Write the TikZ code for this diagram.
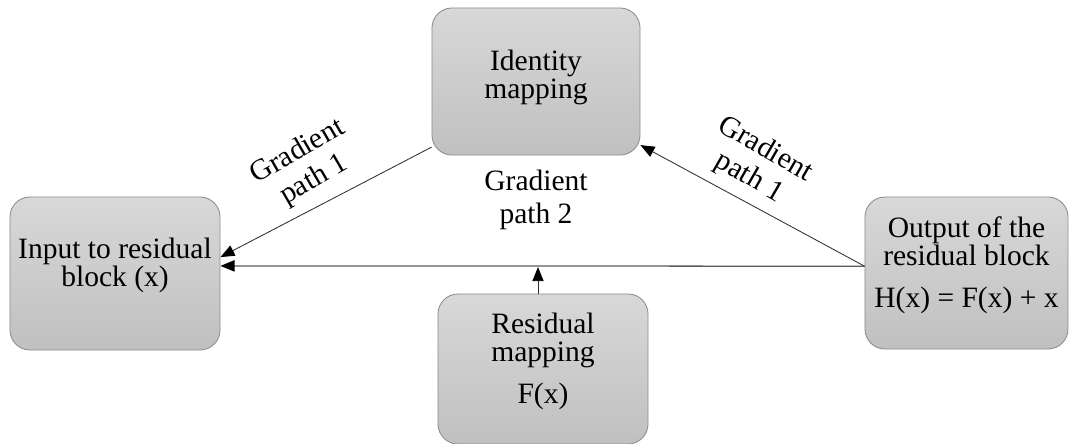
\documentclass[tikz,border=0pt]{standalone}
\usepackage{fontspec}
\setmainfont{Liberation Serif}
\usetikzlibrary{arrows.meta, positioning}
\definecolor{boxtop}{HTML}{D8D8D8}
\definecolor{boxbottom}{HTML}{C0C0C0}
\definecolor{boxborder}{HTML}{8C8C8C}
\definecolor{linedark}{HTML}{2E2E2E}
\definecolor{linemid}{HTML}{5A5A5A}

\tikzset{
  mapbox/.style={draw=boxborder, top color=boxtop, bottom color=boxbottom,
                 rounded corners=0.5cm, line width=0.6pt},
  boxtext/.style={font=\fontsize{21}{19.8}\selectfont, align=center, text=black},
  gradlabel/.style={font=\fontsize{21}{23}\selectfont, align=center, text=black},
  gradarrow/.style={draw=linedark, line width=0.6pt,
                    -{Triangle[length=10pt,width=8pt,color=black]}},
}

\begin{document}
\begin{tikzpicture}[x=0.025cm, y=-0.025cm]
  \useasboundingbox (0,0) rectangle (1070,443);

  % boxes
  \node[mapbox, minimum width=5.25cm, minimum height=3.825cm,
        label={[boxtext, yshift=0.2cm]center:Input to residual\\block (x)}] (input) at (115,273.5) {};
  \node[mapbox, minimum width=5.2cm, minimum height=3.675cm,
        label={[boxtext, yshift=0.1cm]center:Identity\\mapping}] (identity) at (536,81.5) {};
  \node[mapbox, minimum width=5.075cm, minimum height=3.8cm,
        label={[boxtext, yshift=0.2cm]center:Output of the\\residual block\\[10pt]H(x) = F(x) + x}] (output) at (966.5,273) {};
  \node[mapbox, minimum width=5.25cm, minimum height=3.75cm,
        label={[boxtext, yshift=0.19cm]center:Residual\\mapping\\[10pt]F(x)}] (residual) at (543,369) {};

  % connector ends
  \coordinate (inmain) at ([yshift=0.19cm]input.east);
  \coordinate (indiag) at ([yshift=0.41cm]input.east);
  \coordinate (outmain) at ([yshift=0.17cm]output.west);
  \coordinate (idleft) at ([yshift=-1.64cm]identity.west);
  \coordinate (idright) at ([yshift=-1.59cm]identity.east);
  \coordinate (resup) at ([xshift=-0.125cm]residual.north);

  % connectors
  \draw[gradarrow, draw=linemid, line width=0.9pt] (outmain) -- (inmain);
  \draw[gradarrow] (idleft) -- (indiag);
  \draw[gradarrow] (outmain) -- (idright);
  \draw[gradarrow] (resup) -- ([yshift=-0.03cm]resup |- inmain);

  % labels
  \node[gradlabel, rotate=30] (leftlabel) at (306,166) {Gradient\\path 1};
  \node[gradlabel, rotate=-30] (rightlabel) at (757,164) {Gradient\\path 1};
  \node[gradlabel] (midlabel) at (536,200) {Gradient\\path 2};
\end{tikzpicture}
\end{document}
